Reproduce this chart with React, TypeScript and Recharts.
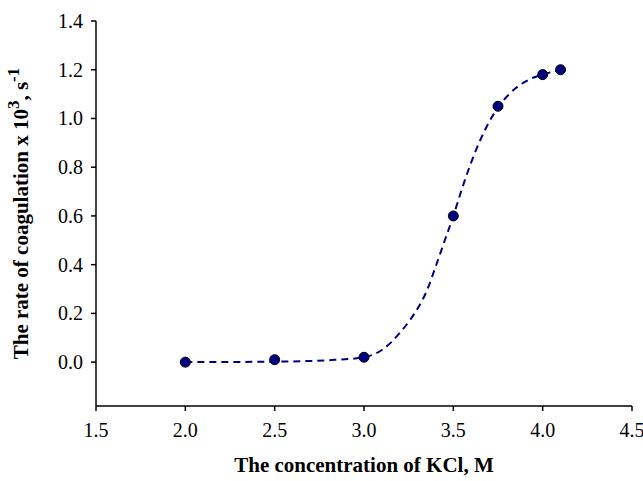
import { ComposedChart, Line, Scatter, XAxis, YAxis } from 'recharts'

// measured points
const concentration = [2.0, 2.5, 3.0, 3.5, 3.75, 4.0, 4.1]
const rate = [0.0, 0.01, 0.02, 0.6, 1.05, 1.18, 1.2]

// fitted curve
const fitX = [2.0, 2.5, 2.8, 3.0, 3.1, 3.15, 3.2, 3.25, 3.3, 3.35, 3.4, 3.45, 3.5, 3.55, 3.6, 3.65, 3.7, 3.75, 3.8, 3.85, 3.9, 3.95, 4.0, 4.1]
const fitY = [0.0, 0.002, 0.008, 0.02, 0.05, 0.08, 0.12, 0.165, 0.22, 0.29, 0.39, 0.495, 0.6, 0.715, 0.82, 0.91, 0.985, 1.045, 1.09, 1.125, 1.15, 1.168, 1.18, 1.2]

const xTicks = [1.5, 2.0, 2.5, 3.0, 3.5, 4.0, 4.5]
const yTicks = [0, 0.2, 0.4, 0.6, 0.8, 1.0, 1.2, 1.4]

const points = concentration.map((x, i) => ({ x, y: rate[i] }))
const fit = fitX.map((x, i) => ({ x, y: fitY[i] }))

const FONT = '"Liberation Serif", "Times New Roman", serif'

function XTick({ x, y, payload }: any) {
  return (
    <text x={x} y={y + 24} textAnchor="middle" fontFamily={FONT} fontSize={20} fill="#000">
      {Number(payload.value).toFixed(1)}
    </text>
  )
}

function YTick({ x, y, payload }: any) {
  return (
    <text x={x - 6} y={y + 7} textAnchor="end" fontFamily={FONT} fontSize={20} fill="#000">
      {Number(payload.value).toFixed(1)}
    </text>
  )
}

function YLabel({ viewBox }: any) {
  const cx = viewBox.x + 28
  const cy = viewBox.y + viewBox.height / 2
  return (
    <text
      x={cx}
      y={cy}
      transform={`rotate(-90, ${cx}, ${cy})`}
      textAnchor="middle"
      fontFamily={FONT}
      fontSize={21}
      fontWeight="bold"
      fill="#000"
    >
      The rate of coagulation x 10
      <tspan fontSize={17} dy={-9}>3</tspan>
      <tspan dy={9}>, s</tspan>
      <tspan fontSize={17} dy={-9}>-1</tspan>
    </text>
  )
}

function XLabel({ viewBox }: any) {
  const cx = viewBox.x + viewBox.width / 2
  return (
    <text x={cx} y={viewBox.y + 66} textAnchor="middle" fontFamily={FONT} fontSize={21} fontWeight="bold" fill="#000">
      The concentration of KCl, M
    </text>
  )
}

export default function App() {
  return (
    <div style={{ position: 'fixed', left: 0, top: 0, width: 643, height: 481, background: '#fff' }}>
      <ComposedChart
        width={643}
        height={481}
        margin={{ top: 21, right: 11, bottom: 5, left: 0 }}
        style={{ fontFamily: FONT }}
      >
        <XAxis
          type="number"
          dataKey="x"
          domain={[1.5, 4.5]}
          ticks={xTicks}
          allowDataOverflow
          height={70}
          axisLine={{ stroke: '#000', strokeWidth: 1.5 }}
          tickLine={{ stroke: '#000', strokeWidth: 1.5 }}
          tickSize={5}
          tick={<XTick />}
          label={<XLabel />}
        />
        <YAxis
          type="number"
          dataKey="y"
          domain={[-0.18, 1.4]}
          ticks={yTicks}
          allowDataOverflow
          width={96}
          axisLine={{ stroke: '#000', strokeWidth: 1.5 }}
          tickLine={{ stroke: '#000', strokeWidth: 1.5 }}
          tickSize={5}
          tick={<YTick />}
          label={<YLabel />}
        />
        <Line
          data={fit}
          dataKey="y"
          type="monotone"
          stroke="#000080"
          strokeWidth={2}
          strokeDasharray="7 5"
          dot={false}
          activeDot={false}
          isAnimationActive={false}
        />
        <Scatter
          data={points}
          dataKey="y"
          fill="#000080"
          stroke="#000"
          strokeWidth={1}
          shape={(p: any) => <circle cx={p.cx} cy={p.cy} r={5} fill="#000080" stroke="#000" strokeWidth={1} />}
          isAnimationActive={false}
        />
      </ComposedChart>
    </div>
  )
}
